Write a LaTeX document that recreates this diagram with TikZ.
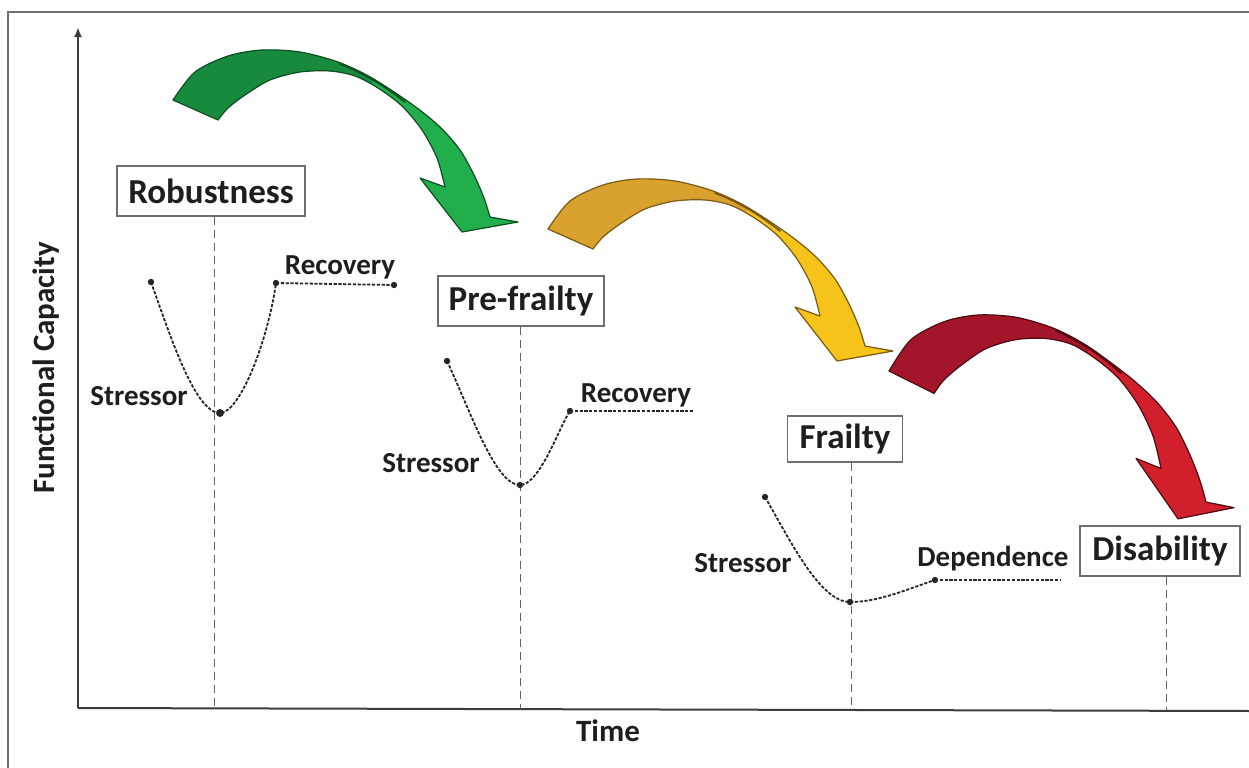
\documentclass[tikz,border=0pt]{standalone}
\usepackage{fontspec}
\setmainfont{Carlito}
\usetikzlibrary{arrows.meta}
\definecolor{framec}{HTML}{6E6E6E}
\definecolor{axisc}{HTML}{3C3C3C}
\definecolor{txt}{HTML}{1E1E1E}
\definecolor{greenback}{HTML}{178A3E}
\definecolor{greenfront}{HTML}{22AE4C}
\definecolor{greenedge}{HTML}{0E4F22}
\definecolor{yellowback}{HTML}{D9A12E}
\definecolor{yellowfront}{HTML}{F6C31A}
\definecolor{yellowedge}{HTML}{7A5A12}
\definecolor{redback}{HTML}{A3162A}
\definecolor{redfront}{HTML}{D11F2C}
\definecolor{rededge}{HTML}{4E0A12}
\newcommand{\arrowpath}{plot[smooth] coordinates {(173,100) (195,72) (228,56) (262,50) (300,52) (338,62) (372,78) (413,105) (440,127) (460,150) (474,175) (484,198) (490,217)} -- (518,222) -- (462,232) -- (420,178) -- (445,187) -- plot[smooth] coordinates {(445,187) (437,158) (422,130) (402,106) (378,88) (355,76) (330,71) (300,72) (270,80) (245,95) (228,108) (218,120)} -- cycle}
\newcommand{\drawbentarrow}[4]{%
  \begin{scope}[#1]
    \fill[#3] \arrowpath;
    \begin{scope}
      \clip (100,0) rectangle (372,300);
      \fill[#2] \arrowpath;
    \end{scope}
    \draw[#4, line width=0.6pt, line join=round] \arrowpath;
    \draw[#4, line width=0.9pt, line cap=round] (340,64) .. controls (362,72) and (385,86) .. (405,102);
  \end{scope}}
\begin{document}
\begin{tikzpicture}[x=0.5pt,y=-0.5pt,
  stage/.style={draw=framec, line width=0.8pt, fill=white, text=txt, inner sep=0pt,
    font=\fontsize{17.5}{20}\selectfont\bfseries},
  lab/.style={text=txt, inner sep=0pt, font=\fontsize{14.5}{17}\selectfont\bfseries},
  axlab/.style={text=txt, inner sep=0pt, font=\fontsize{15.5}{18}\selectfont\bfseries},
  axisline/.style={draw=axisc, line width=1pt},
  vdash/.style={draw=axisc!80, line width=0.5pt, dash pattern=on 4pt off 2.5pt},
  curve/.style={draw=black!85, line width=0.9pt, dash pattern=on 1.6pt off 0.8pt},
  dot/.style={fill=black!85}]
\useasboundingbox (0,0) rectangle (1249,767);
\fill[white] (0,0) rectangle (1249,767);
% frame
\draw[framec, line width=0.8pt] (8,800) -- (8,12) -- (1270,12);
% axes
\coordinate (O) at (78,708);
\coordinate (Ytop) at (78,27);
\coordinate (Xend) at (1252,711);
\draw[axisline, -{Latex[length=5pt,width=4pt]}] (O) -- (Ytop);
\draw[axisline] (O) -- (Xend);
\node[axlab, rotate=90] (fc) at (46,368) {Functional Capacity};
\node[axlab] (time) at (608,731) {Time};
% bent arrows
\drawbentarrow{}{greenback}{greenfront}{greenedge}
\drawbentarrow{shift={(375,129)}}{yellowback}{yellowfront}{yellowedge}
\drawbentarrow{shift={(716,259)}, yscale=1.12}{redback}{redfront}{rededge}
% stage boxes
\node[stage, minimum width=94pt, minimum height=25pt] (rob) at (211,191) {Robustness};
\node[stage, minimum width=83pt, minimum height=25pt] (pre) at (521,301) {Pre-frailty};
\node[stage, minimum width=57.5pt, minimum height=23pt] (fra) at (845,439) {Frailty};
\node[stage, minimum width=80pt, minimum height=25pt] (dis) at (1160,551) {Disability};
% vertical dashed lines
\coordinate (v1) at (214,709);
\coordinate (v2) at (520,709);
\coordinate (v3) at (851,710);
\coordinate (v4) at (1166,710);
\draw[vdash] (rob.south -| v1) -- (v1);
\draw[vdash] (pre.south -| v2) -- (v2);
\draw[vdash] (fra.south -| v3) -- (v3);
\draw[vdash] (dis.south -| v4) -- (v4);
% curve 1
\coordinate (a1) at (151,282);
\coordinate (b1) at (220,413);
\coordinate (c1) at (276,283);
\coordinate (d1) at (394,285);
\draw[curve] (a1) .. controls (170,335) and (195,413) .. (b1) .. controls (240,413) and (268,340) .. (c1);
\draw[curve] (c1) -- (d1);
\foreach \p in {a1,c1,d1} \fill[dot] (\p) circle[radius=1.6pt];
\fill[dot] (b1) circle[radius=2pt];
\node[lab] (st1) at (139,396) {Stressor};
\node[lab] (rc1) at (340,267) {Recovery};
% curve 2
\coordinate (a2) at (447,361);
\coordinate (b2) at (520,485);
\coordinate (c2) at (570,411);
\coordinate (d2) at (693,411);
\draw[curve] (a2) .. controls (470,410) and (495,485) .. (b2) .. controls (540,485) and (560,425) .. (c2);
\draw[curve] (c2) -- (d2);
\foreach \p in {a2,b2,c2} \fill[dot] (\p) circle[radius=1.6pt];
\node[lab] (st2) at (431,463) {Stressor};
\node[lab] (rc2) at (636,395) {Recovery};
% curve 3
\coordinate (a3) at (765,497);
\coordinate (b3) at (850,602);
\coordinate (c3) at (935,580);
\coordinate (d3) at (1060,580);
\draw[curve] (a3) .. controls (790,540) and (820,602) .. (b3) .. controls (880,602) and (910,588) .. (c3);
\draw[curve] (c3) -- (d3);
\foreach \p in {a3,b3,c3} \fill[dot] (\p) circle[radius=1.6pt];
\node[lab] (st3) at (743,563) {Stressor};
\node[lab] (dep) at (993,559) {Dependence};
\end{tikzpicture}
\end{document}
